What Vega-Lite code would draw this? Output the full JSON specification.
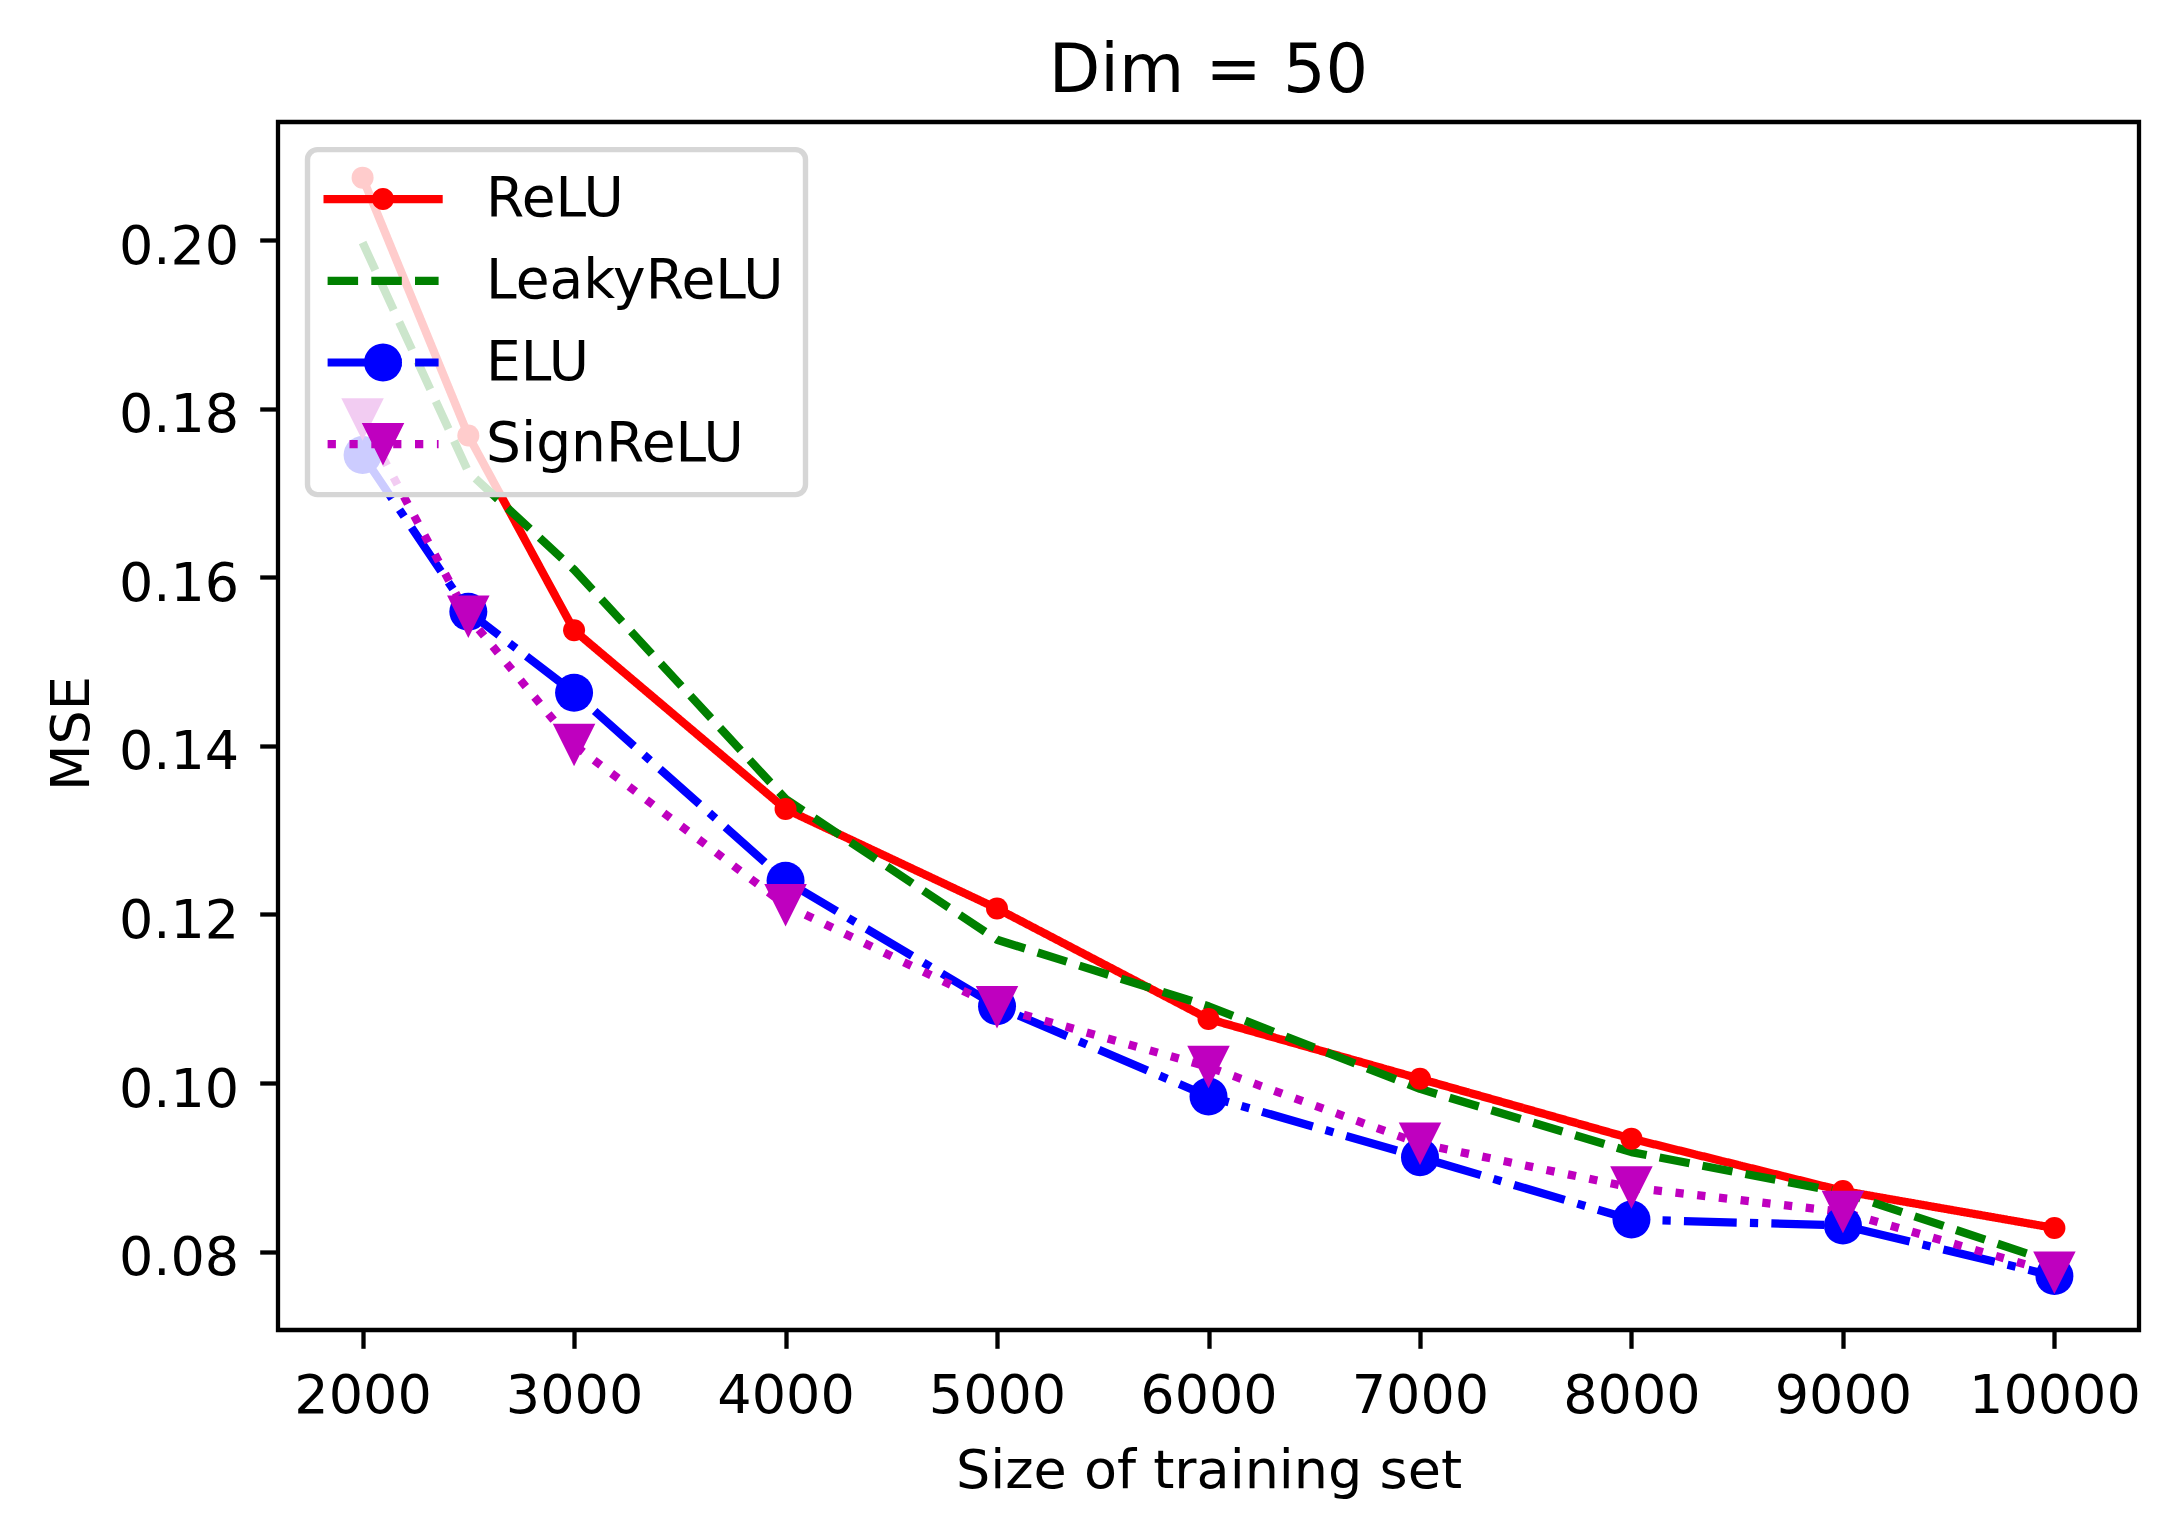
{
  "$schema": "https://vega.github.io/schema/vega-lite/v6.json",
  "autosize": {"type": "none"},
  "padding": {"left": 278, "top": 122, "right": 43, "bottom": 210},
  "width": 1861,
  "height": 1208,
  "background": "white",
  "title": {
    "text": "Dim = 50",
    "font": "DejaVu Sans",
    "fontSize": 67,
    "fontWeight": "normal",
    "color": "black",
    "anchor": "middle",
    "frame": "group",
    "baseline": "alphabetic",
    "offset": -37
  },
  "data": {
    "values": [
      {"series": "ReLU", "n": 2000, "mse": 0.2074},
      {"series": "ReLU", "n": 2500, "mse": 0.1768},
      {"series": "ReLU", "n": 3000, "mse": 0.1537},
      {"series": "ReLU", "n": 4000, "mse": 0.1325},
      {"series": "ReLU", "n": 5000, "mse": 0.1207},
      {"series": "ReLU", "n": 6000, "mse": 0.1076},
      {"series": "ReLU", "n": 7000, "mse": 0.1005},
      {"series": "ReLU", "n": 8000, "mse": 0.0934},
      {"series": "ReLU", "n": 9000, "mse": 0.0872},
      {"series": "ReLU", "n": 10000, "mse": 0.0828},
      {"series": "LeakyReLU", "n": 2000, "mse": 0.1997},
      {"series": "LeakyReLU", "n": 2500, "mse": 0.1725},
      {"series": "LeakyReLU", "n": 3000, "mse": 0.1609},
      {"series": "LeakyReLU", "n": 4000, "mse": 0.1337},
      {"series": "LeakyReLU", "n": 5000, "mse": 0.1170},
      {"series": "LeakyReLU", "n": 6000, "mse": 0.1091},
      {"series": "LeakyReLU", "n": 7000, "mse": 0.0993},
      {"series": "LeakyReLU", "n": 8000, "mse": 0.0918},
      {"series": "LeakyReLU", "n": 9000, "mse": 0.0870},
      {"series": "LeakyReLU", "n": 10000, "mse": 0.0787},
      {"series": "ELU", "n": 2000, "mse": 0.1745},
      {"series": "ELU", "n": 2500, "mse": 0.1559},
      {"series": "ELU", "n": 3000, "mse": 0.1463},
      {"series": "ELU", "n": 4000, "mse": 0.1240},
      {"series": "ELU", "n": 5000, "mse": 0.1091},
      {"series": "ELU", "n": 6000, "mse": 0.0984},
      {"series": "ELU", "n": 7000, "mse": 0.0912},
      {"series": "ELU", "n": 8000, "mse": 0.0838},
      {"series": "ELU", "n": 9000, "mse": 0.0831},
      {"series": "ELU", "n": 10000, "mse": 0.0771},
      {"series": "SignReLU", "n": 2000, "mse": 0.1787},
      {"series": "SignReLU", "n": 2500, "mse": 0.1553},
      {"series": "SignReLU", "n": 3000, "mse": 0.1401},
      {"series": "SignReLU", "n": 4000, "mse": 0.1211},
      {"series": "SignReLU", "n": 5000, "mse": 0.1090},
      {"series": "SignReLU", "n": 6000, "mse": 0.1019},
      {"series": "SignReLU", "n": 7000, "mse": 0.0928},
      {"series": "SignReLU", "n": 8000, "mse": 0.0876},
      {"series": "SignReLU", "n": 9000, "mse": 0.0847},
      {"series": "SignReLU", "n": 10000, "mse": 0.0775}
    ]
  },
  "encoding": {
    "x": {
      "field": "n",
      "type": "quantitative",
      "scale": {"domain": [1600, 10400], "nice": false, "zero": false},
      "axis": {
        "title": "Size of training set",
        "values": [2000, 3000, 4000, 5000, 6000, 7000, 8000, 9000, 10000],
        "format": "d",
        "labelPadding": 21,
        "titleY": 157,
        "titleBaseline": "alphabetic"
      }
    },
    "y": {
      "field": "mse",
      "type": "quantitative",
      "scale": {"domain": [0.0707, 0.214], "nice": false, "zero": false},
      "axis": {
        "title": "MSE",
        "values": [0.08, 0.1, 0.12, 0.14, 0.16, 0.18, 0.2],
        "format": ".2f",
        "labelPadding": 21,
        "labelOffset": 7,
        "titleAngle": 270,
        "titleAlign": "center",
        "titleBaseline": "alphabetic",
        "titleX": -190,
        "titleY": 611
      }
    },
    "color": {
      "field": "series",
      "type": "nominal",
      "scale": {
        "domain": ["ReLU", "LeakyReLU", "ELU", "SignReLU"],
        "range": ["#ff0000", "#008000", "#0000ff", "#bf00bf"]
      },
      "legend": {
        "title": null,
        "orient": "none",
        "legendX": 29.5,
        "legendY": 27.6,
        "direction": "vertical",
        "columns": 1,
        "padding": 22,
        "rowPadding": 25.7,
        "fillColor": "rgba(255,255,255,0.8)",
        "strokeColor": "#d6d6d6",
        "cornerRadius": 10,
        "labelFont": "DejaVu Sans",
        "labelFontSize": 55,
        "labelColor": "black",
        "labelLimit": 1000,
        "labelOffset": 125,
        "symbolSize": 400,
        "symbolStrokeWidth": 0,
        "symbolOffset": -23.5,
        "encode": {
          "legend": {"update": {"strokeWidth": {"value": 5.4}}},
          "symbols": {
            "update": {
              "fill": {
                "condition": [
                  {"test": "datum.value === 'ReLU'", "value": "#ff0000"},
                  {"test": "datum.value === 'LeakyReLU'", "value": "#008000"},
                  {"test": "datum.value === 'ELU'", "value": "#0000ff"}
                ],
                "value": "#bf00bf"
              },
              "stroke": {"value": "transparent"},
              "strokeWidth": {"value": 0},
              "size": {"value": 400},
              "opacity": {"value": 1}
            }
          }
        }
      }
    }
  },
  "layer": [
    {
      "mark": {"type": "point", "filled": true, "opacity": 0},
      "encoding": {
        "shape": {
          "field": "series",
          "type": "nominal",
          "scale": {
            "domain": ["ReLU", "LeakyReLU", "ELU", "SignReLU"],
            "range": [
              "M-1,-0.41H10.92V0.41H-1Z M3.85,0A1.1 1.1 0 1 1 6.05,0A1.1 1.1 0 1 1 3.85,0Z",
              "M-0.59,-0.41H2.46V0.41H-0.59Z M3.78,-0.41H6.83V0.41H3.78Z M8.15,-0.41H10.51V0.41H8.15Z",
              "M-0.59,-0.41H4.69V0.41H-0.59Z M6.01,-0.41H6.84V0.41H6.01Z M8.16,-0.41H10.51V0.41H8.16Z M3.05,0A1.9 1.9 0 1 1 6.85,0A1.9 1.9 0 1 1 3.05,0Z",
              "M-0.59,-0.41H0.24V0.41H-0.59Z M1.6,-0.41H2.42V0.41H1.6Z M3.78,-0.41H4.61V0.41H3.78Z M5.97,-0.41H6.79V0.41H5.97Z M8.15,-0.41H8.98V0.41H8.15Z M10.34,-0.41H10.51V0.41H10.34Z M2.83,-2.13H7.08L4.95,2.13Z"
            ]
          },
          "legend": {"title": null, "orient": "none"}
        }
      }
    },
    {
      "mark": {"type": "line", "strokeWidth": 8.25, "strokeJoin": "round", "strokeCap": "butt"},
      "encoding": {
        "strokeDash": {
          "field": "series",
          "type": "nominal",
          "scale": {
            "domain": ["ReLU", "LeakyReLU", "ELU", "SignReLU"],
            "range": [[1, 0], [30.5, 13.2], [52.8, 13.2, 8.25, 13.2], [8.25, 13.6]]
          },
          "legend": null
        }
      }
    },
    {
      "transform": [{"filter": "datum.series === 'ReLU'"}],
      "mark": {"type": "point", "filled": true, "opacity": 1, "shape": "circle", "size": 484}
    },
    {
      "transform": [{"filter": "datum.series === 'ELU'"}],
      "mark": {"type": "point", "filled": true, "opacity": 1, "shape": "circle", "size": 1444}
    },
    {
      "transform": [{"filter": "datum.series === 'SignReLU'"}],
      "mark": {"type": "point", "filled": true, "opacity": 1, "shape": "M-1,-1L1,-1L0,1Z", "size": 1806}
    }
  ],
  "config": {
    "view": {"stroke": "black", "strokeWidth": 4.3},
    "font": "DejaVu Sans",
    "axis": {
      "grid": false,
      "domain": false,
      "ticks": true,
      "tickColor": "black",
      "tickWidth": 4.3,
      "tickSize": 18.3,
      "labelFont": "DejaVu Sans",
      "labelFontSize": 54,
      "labelColor": "black",
      "labelFlush": false,
      "labelOverlap": false,
      "titleFont": "DejaVu Sans",
      "titleFontSize": 54,
      "titleFontWeight": "normal",
      "titleColor": "black"
    }
  }
}
